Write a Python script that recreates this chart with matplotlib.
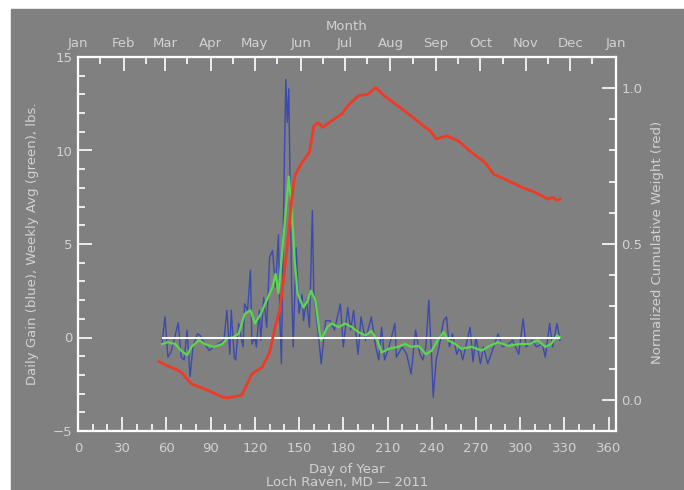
import matplotlib
matplotlib.use('Agg')
import matplotlib.pyplot as plt
from matplotlib.patches import Rectangle
from matplotlib.ticker import MultipleLocator, FixedLocator

# daily gain (blue), lbs
gain_day = [57, 59, 61, 63, 65, 68, 70, 72, 74, 76, 78, 81, 83, 86, 89, 92, 95, 99,
            101, 103, 104, 106, 107, 109, 111, 112, 113, 115, 117, 118, 120, 121, 123,
            124, 126, 128, 130, 132, 134, 136, 137, 138, 140, 141, 142, 143, 144, 145,
            146, 148, 150, 152, 153, 155, 157, 159, 160, 163, 165, 168, 171, 174, 178,
            180, 183, 185, 187, 190, 192, 195, 199, 202, 204, 206, 208, 211, 215, 216,
            220, 223, 226, 229, 232, 234, 236, 238, 240, 241, 243, 245, 248, 250, 252,
            254, 257, 259, 261, 264, 266, 268, 270, 273, 275, 278, 282, 285, 288, 292,
            295, 299, 302, 304, 308, 311, 315, 317, 320, 322, 325, 327]
gain_val = [-0.3, 1.1, -1.05, -0.8, -0.2, 0.8, -1.05, -1.2, 0.4, -2.1, -0.5, 0.2, 0.1,
            -0.35, -0.7, -0.5, -0.35, -0.15, 1.45, -0.9, 1.45, -1.05, -1.2, 0.75, -0.15,
            -0.5, 1.8, 1.45, 3.6, -0.35, 0.0, -0.5, 1.45, -0.15, 2.15, 0.55, 4.3, 4.65,
            2.7, 5.5, 0.9, -1.4, 9.5, 13.8, 11.5, 13.3, 7.5, 2.5, -0.5, 4.8, 1.3, 2.3,
            0.9, 2.0, 0.55, 6.8, 2.3, 0.2, -1.4, 0.9, 0.9, 0.4, 1.8, -0.5, 1.6, 0.4,
            1.45, -0.9, 1.1, -0.15, 1.1, -0.5, -1.2, 0.55, -1.2, -0.5, 0.75, -1.05,
            -0.5, -0.9, -1.95, 0.4, -0.9, -1.2, -0.5, 2.0, -1.2, -3.2, -1.2, -0.5, 0.9,
            1.1, -0.5, 0.2, -0.9, -0.5, -1.2, -0.15, 0.55, -1.3, 0.0, -1.4, -0.5, -1.4,
            -0.5, 0.2, -0.5, -0.35, -0.15, -0.9, 1.0, -0.5, -0.15, -0.5, -0.35, -1.05,
            0.75, -0.5, 0.75, -0.15]

# weekly average (green), lbs
week_day = [57, 61, 66, 70, 74, 77, 82, 86, 92, 98, 101, 105, 109, 113, 117, 120, 124,
            128, 132, 134, 136, 138, 141, 143, 145, 147, 149, 153, 156, 158, 161, 164,
            165, 169, 172, 177, 181, 186, 190, 195, 199, 203, 206, 211, 217, 222, 226,
            231, 234, 236, 240, 244, 248, 251, 256, 260, 267, 274, 278, 285, 292, 299,
            306, 312, 317, 321, 325, 327]
week_val = [-0.35, -0.25, -0.35, -0.7, -0.95, -0.5, -0.15, -0.35, -0.5, -0.35, -0.05,
            0.0, 0.2, 1.25, 1.45, 0.75, 1.25, 2.0, 2.7, 3.4, 2.35, 4.1, 6.8, 8.6, 6.8,
            4.1, 2.35, 1.6, 2.0, 2.5, 2.0, 0.2, -0.15, 0.55, 0.75, 0.55, 0.75, 0.55, 0.3,
            0.1, 0.35, -0.15, -0.8, -0.6, -0.5, -0.35, -0.5, -0.45, -0.7, -0.9, -0.7,
            -0.15, 0.3, -0.15, -0.35, -0.6, -0.5, -0.7, -0.5, -0.25, -0.45, -0.35, -0.35,
            -0.15, -0.5, -0.35, 0.1, 0.0]

# normalized cumulative weight (red)
cum_day = [55, 60, 66, 70, 77, 86, 98, 101, 106, 111, 118, 125, 130, 134, 137, 141,
           143, 145, 147, 152, 157, 160, 163, 166, 172, 179, 183, 190, 197, 202, 208,
           217, 226, 234, 239, 243, 250, 258, 267, 276, 282, 292, 301, 310, 319, 322,
           325, 327]
cum_val = [0.123, 0.11, 0.099, 0.089, 0.051, 0.035, 0.009, 0.006, 0.01, 0.014, 0.083,
           0.105, 0.153, 0.238, 0.29, 0.45, 0.54, 0.644, 0.719, 0.762, 0.794, 0.879,
           0.89, 0.874, 0.895, 0.917, 0.943, 0.975, 0.981, 1.002, 0.975, 0.943, 0.911,
           0.88, 0.863, 0.837, 0.847, 0.831, 0.794, 0.762, 0.724, 0.703, 0.682, 0.666,
           0.644, 0.65, 0.64, 0.644]

month_start = [0, 31, 59, 90, 120, 151, 181, 212, 243, 273, 304, 334, 365]
month_names = ['Jan', 'Feb', 'Mar', 'Apr', 'May', 'Jun', 'Jul', 'Aug', 'Sep', 'Oct',
               'Nov', 'Dec', 'Jan']

bg = '#808080'
txt = '#d2d2d2'
fs = 9.5

fig = plt.figure(figsize=(6.84, 4.90), dpi=100, facecolor='white')
fig.patches.append(Rectangle((11 / 684, 0), 1, 481 / 490, transform=fig.transFigure,
                             color=bg, zorder=-10))

ax = fig.add_axes([78 / 684, 59 / 490, 538 / 684, 374 / 490])
ax.set_facecolor('none')

ax.plot(gain_day, gain_val, color='#3c4aae', lw=1.0)
ax.plot(week_day, week_val, color='#5cd84c', lw=1.6)
ax.hlines(0, gain_day[0], gain_day[-1], color='white', lw=1.4)

ax.set_xlim(0, 365)
ax.set_ylim(-5, 15)
ax.xaxis.set_major_locator(MultipleLocator(30))
ax.xaxis.set_minor_locator(MultipleLocator(10))
ax.yaxis.set_major_locator(MultipleLocator(5))
ax.yaxis.set_minor_locator(MultipleLocator(1))
ax.tick_params(which='both', direction='in', color='white', labelcolor=txt,
               labelsize=fs, top=False, right=False)
ax.tick_params(which='major', length=10, width=1.2)
ax.tick_params(which='minor', length=5, width=1.2)
ax.tick_params(axis='x', pad=8)
ax.tick_params(axis='y', pad=4)
for s in ax.spines.values():
    s.set_color('white')
    s.set_linewidth(1.5)

# right axis: cumulative weight
ax2 = ax.twinx()
ax2.plot(cum_day, cum_val, color='#f03a26', lw=2.0)
ax2.set_ylim(-0.1, 1.1)
ax2.yaxis.set_major_locator(FixedLocator([0.0, 0.5, 1.0]))
ax2.yaxis.set_minor_locator(MultipleLocator(0.1))
ax2.set_yticklabels(['0.0', '0.5', '1.0'])
ax2.tick_params(which='both', direction='in', color='white', labelcolor=txt,
                labelsize=fs, pad=4)
ax2.tick_params(which='major', length=10, width=1.2)
ax2.tick_params(which='minor', length=5, width=1.2)
for s in ax2.spines.values():
    s.set_color('white')
    s.set_linewidth(1.5)

# top axis: months
ax3 = ax.twiny()
ax3.set_xlim(0, 365)
ax3.xaxis.set_major_locator(FixedLocator(month_start))
ax3.xaxis.set_minor_locator(FixedLocator([m + 15 for m in month_start[:-1]]))
ax3.set_xticklabels(month_names)
ax3.tick_params(which='both', direction='in', color='white', labelcolor=txt,
                labelsize=fs, pad=5)
ax3.tick_params(which='major', length=10, width=1.2)
ax3.tick_params(which='minor', length=5, width=1.2)
ax3.set_xlabel('Month', color=txt, fontsize=fs, labelpad=5)
for s in ax3.spines.values():
    s.set_color('white')
    s.set_linewidth(1.5)

fig.text(347 / 684, 1 - 469 / 490, 'Day of Year', color=txt, fontsize=fs,
         ha='center', va='center')
fig.text(347 / 684, 1 - 482 / 490, 'Loch Raven, MD \u2014 2011', color=txt,
         fontsize=fs, ha='center', va='center')
fig.text(33 / 684, 1 - 244 / 490, 'Daily Gain (blue), Weekly Avg (green), lbs.',
         color=txt, fontsize=fs, rotation=90, ha='center', va='center')
fig.text(657 / 684, 1 - 242 / 490, 'Normalized Cumulative Weight (red)',
         color=txt, fontsize=fs, rotation=90, ha='center', va='center')

fig.savefig('out.png', dpi=100, facecolor='white')
